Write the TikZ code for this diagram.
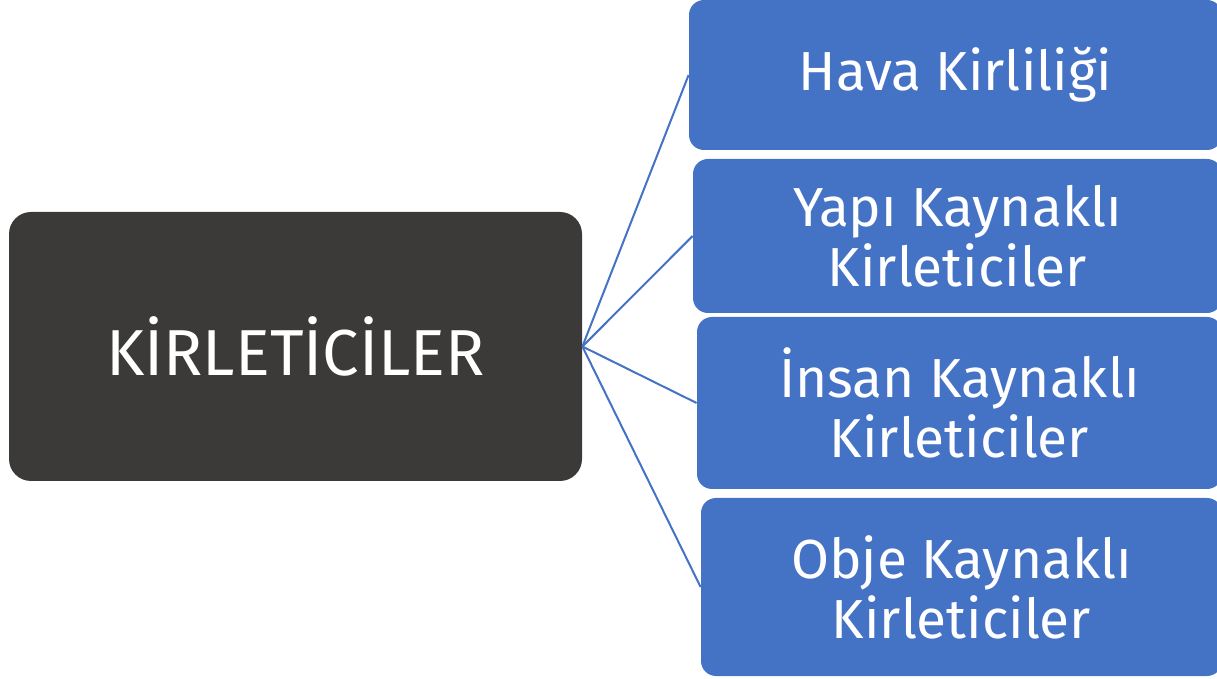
\documentclass[tikz,border=0pt]{standalone}
\usepackage{fontspec}
\setmainfont{Fira Sans}
\usetikzlibrary{positioning}
\definecolor{darkbox}{HTML}{3B3A38}
\definecolor{bluebox}{HTML}{4472C4}
\tikzset{
    mainbox/.style={
        fill=darkbox,
        rounded corners=11pt,
        text=white,
        inner sep=0pt,
        minimum width=286.5pt,
        minimum height=134.5pt,
        font=\fontsize{32.5}{38}\selectfont
    },
    subbox/.style={
        fill=bluebox,
        rounded corners=7.5pt,
        text=white,
        inner sep=0pt,
        align=center,
        font=\fontsize{27.5}{30}\selectfont
    },
    link/.style={
        draw=bluebox,
        line width=1pt
    }
}

\begin{document}
\begin{tikzpicture}[x=0.5pt, y=-0.5pt]
  % Frame of the slide
  \path[use as bounding box, clip] (0,0) rectangle (1217,679);

  % Central box
  \node[mainbox] (kirl) at (295.5,346.5) {KİRLETİCİLER};

  % Branches on the right
  \node[subbox, minimum width=266.5pt, minimum height=75pt] (hava) at (955.5,75) {Hava Kirliliği};
  \node[subbox, minimum width=264.5pt, minimum height=77pt] (yapi) at (957.5,236) {Yapı Kaynaklı\\Kirleticiler};
  \node[subbox, minimum width=262.5pt, minimum height=86pt] (insan) at (959.5,403) {İnsan Kaynaklı\\Kirleticiler};
  \node[subbox, minimum width=260.5pt, minimum height=89pt] (obje) at (961.5,587) {Obje Kaynaklı\\Kirleticiler};

  % Connectors
  \draw[link] (kirl.east) -- (hava.west);
  \draw[link] (kirl.east) -- (yapi.west);
  \draw[link] (kirl.east) -- (insan.west);
  \draw[link] (kirl.east) -- (obje.west);
\end{tikzpicture}
\end{document}
